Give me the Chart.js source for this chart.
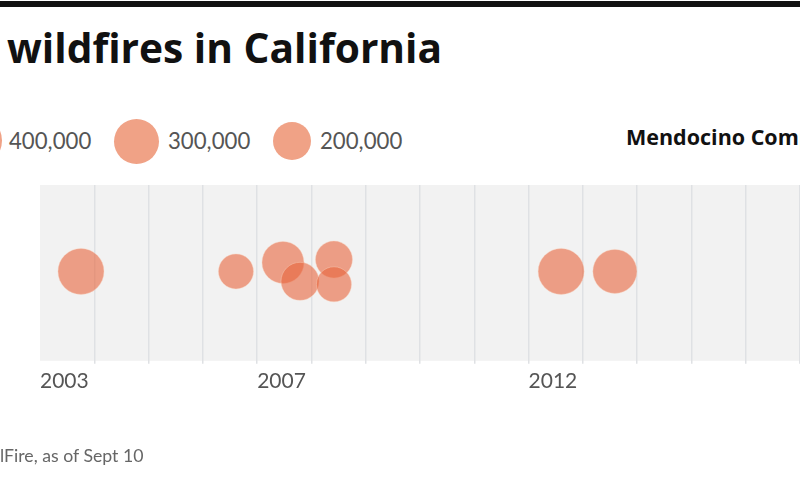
<!DOCTYPE html>
<html>
<head>
<meta charset="utf-8">
<script src="https://cdn.jsdelivr.net/npm/chart.js@4"></script>
<style>
  html, body { margin: 0; padding: 0; background: #fff; overflow: hidden; }
  #page { position: relative; width: 800px; height: 480px; overflow: hidden; font-family: "Open Sans", sans-serif; }
  #topbar { position: absolute; left: 0; top: 1px; width: 800px; height: 6px; background: #111; }
  #title { position: absolute; left: 7px; top: 19px; font-size: 40.7px; font-weight: 700; color: #111; white-space: nowrap; }
  .key { position: absolute; top: 127px; font-size: 22.2px; color: #555; font-family: Lato, sans-serif; white-space: nowrap; }
  .dot { position: absolute; border-radius: 50%; background: #f0a286; }
  #fireName { position: absolute; left: 626px; top: 122px; font-size: 21.5px; font-weight: 700; color: #111; white-space: nowrap; }
  #source { position: absolute; left: 0; top: 445px; font-size: 17.7px; color: #666; font-family: Lato, sans-serif; white-space: nowrap; }
  #chart { position: absolute; left: 0; top: 0; }
</style>
</head>
<body>
<div id="page">
  <div id="topbar"></div>
  <div id="title">wildfires in California</div>

  <div class="dot" style="left:-51px;top:114px;width:53px;height:53px"></div>
  <div class="key" style="left:9px">400,000</div>
  <div class="dot" style="left:114px;top:119px;width:45px;height:45px"></div>
  <div class="key" style="left:168px">300,000</div>
  <div class="dot" style="left:273px;top:122px;width:38px;height:38px"></div>
  <div class="key" style="left:320px">200,000</div>
  <div id="fireName">Mendocino Complex</div>

  <!-- wider than the page: the plot runs off the right edge, as in the cropped original -->
  <canvas id="chart" width="824" height="480"></canvas>
  <div id="source">lFire, as of Sept 10</div>
</div>

<script>
// fires: position on the time axis, vertical offset in the row, acres burned
const fireYears = [2003.755, 2006.61, 2007.476, 2007.79, 2008.415, 2008.415, 2012.6, 2013.59];
const fireOffsets = [1.5, 1.5, 10.5, -8.5, 13.5, -11.5, 1.5, 1.5];
const fireAcres = [300000, 174000, 250000, 205000, 194000, 174000, 300000, 275000];

const tickYears = [2003, 2007, 2012];

// 300,000 acres is drawn with a radius of 23px
const radiusFor = acres => 23 * Math.sqrt(acres / 300000);

const plotBackground = {
  id: "plotBackground",
  beforeDraw(chart) {
    const { ctx, chartArea: a } = chart;
    ctx.fillStyle = "#f2f2f2";
    ctx.fillRect(a.left, a.top, a.right - a.left, a.bottom - a.top);
  }
};

new Chart(document.getElementById("chart"), {
  type: "bubble",
  plugins: [plotBackground],
  data: {
    datasets: [{
      data: fireYears.map((y, i) => ({ x: y, y: fireOffsets[i], r: radiusFor(fireAcres[i]) })),
      backgroundColor: "rgba(232,100,60,0.6)",
      borderColor: "rgba(250,214,196,0.4)",
      borderWidth: 1
    }]
  },
  options: {
    responsive: false,
    animation: false,
    events: [],
    layout: { padding: { left: 40, right: 0, top: 185, bottom: 81 } },
    plugins: { legend: { display: false }, tooltip: { enabled: false } },
    scales: {
      x: {
        type: "linear",
        min: 2003,
        max: 2017,
        border: { display: false },
        // no line on the left edge of the plot
        grid: {
          color: c => c.tick && c.tick.value === 2003 ? "rgba(0,0,0,0)" : "#dfe1e4",
          lineWidth: 1.5,
          tickLength: 3
        },
        ticks: {
          stepSize: 1,
          autoSkip: false,
          maxRotation: 0,
          align: "start",
          padding: 5,
          color: "#555",
          font: { family: "Lato", size: 21 },
          callback: v => tickYears.includes(v) ? String(v) : ""
        }
      },
      y: {
        min: -88.5,
        max: 88.5,
        display: false
      }
    }
  }
});
</script>
</body>
</html>
